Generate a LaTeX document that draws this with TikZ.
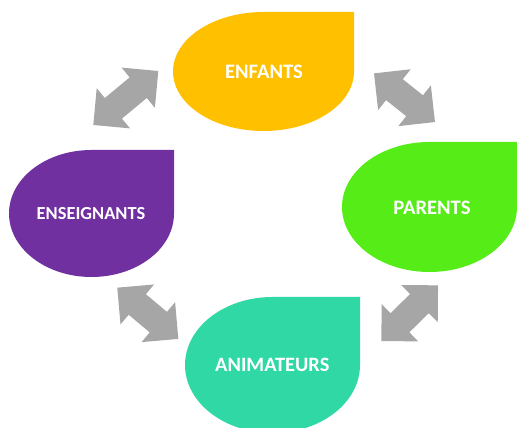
\documentclass[tikz,border=0pt]{standalone}
\usepackage{fontspec}
\setmainfont{Carlito}
\usetikzlibrary{shapes.arrows}
\definecolor{cjaune}{HTML}{FFC000}
\definecolor{cvert}{HTML}{55EC17}
\definecolor{cviolet}{HTML}{7030A0}
\definecolor{cteal}{HTML}{2FD8A4}
\definecolor{cgris}{HTML}{A6A6A6}
\tikzset{
  x=1pt,y=1pt,
  droplabel/.style={text=white,font=\bfseries,inner sep=0pt},
  biarrow/.style={shape=double arrow,fill=cgris,draw=none,inner xsep=0pt,inner ysep=13.2pt,
    minimum height=#1,minimum width=52pt,
    double arrow head extend=12.7pt,double arrow tip angle=90},
}
% #1 cx, #2 cy, #3 rx, #4 ry, #5 colour
\newcommand{\dropshape}[5]{%
  \fill[#5] (#1,#2+#4) -- (#1+#3,#2+#4) -- (#1+#3,#2)
    arc[start angle=0,end angle=-270,x radius=#3,y radius=#4] -- cycle;}
\begin{document}
\begin{tikzpicture}
\useasboundingbox (0,0) rectangle (517,428);
\clip (0,0) rectangle (517,428);
\dropshape{263.5}{356.5}{90.5}{59.5}{cjaune}
\dropshape{429.5}{221}{87.5}{65}{cvert}
\dropshape{91.5}{214.5}{82.5}{63.5}{cviolet}
\dropshape{272.5}{63}{87.5}{68}{cteal}
\node[droplabel,font=\bfseries\fontsize{20.6}{22}\selectfont] (enfants) at (264,356.2) {ENFANTS};
\node[droplabel,font=\bfseries\fontsize{20.6}{22}\selectfont] (parents) at (432,220.2) {PARENTS};
\node[droplabel,font=\bfseries\fontsize{18.4}{20}\selectfont] (enseignants) at (91,214.2) {ENSEIGNANTS};
\node[droplabel,font=\bfseries\fontsize{20.4}{22}\selectfont] (animateurs) at (272.3,63.2) {ANIMATEURS};
\node[biarrow=84.5pt,rotate=39.7] (a1) at (125.8,330) {};
\node[biarrow=78pt,rotate=-38.6] (a2) at (404.5,330.3) {};
\node[biarrow=79.7pt,rotate=-40] (a3) at (147.8,114.7) {};
\node[biarrow=79.5pt,rotate=44.5] (a4) at (409.7,114.8) {};
\end{tikzpicture}
\end{document}
